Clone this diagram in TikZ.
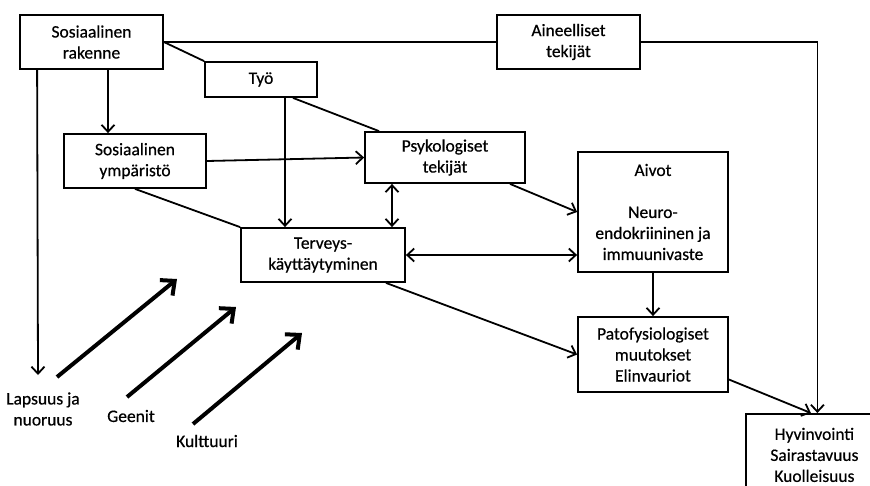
\documentclass[tikz,border=0pt]{standalone}
\usepackage{fontspec}
\setmainfont{Carlito}[FakeBold=0.5]
\usepackage{tikz}
\usetikzlibrary{arrows.meta, positioning}

\begin{document}
\begin{tikzpicture}[x=1pt,y=-1pt,
    box/.style={draw, line width=1.8pt, inner sep=0pt, align=center,
      font=\fontsize{17.5}{21}\selectfont},
    lbl/.style={inner sep=0pt, align=center, font=\fontsize{17.5}{21}\selectfont},
    >={Straight Barb[length=7pt,width=13pt]},
    line width=1.8pt,
    thickarrow/.style={line width=4pt, -{Straight Barb[length=11pt,width=20pt]}}]

  \clip (0,0) rectangle (870,485);

  \node[box, minimum width=143pt, minimum height=54pt] (rakenne)     at (91.5,42)  {Sosiaalinen\\rakenne};
  \node[box, minimum width=112pt, minimum height=35pt] (tyo)         at (261,79.5) {Työ};
  \node[box, minimum width=143pt, minimum height=54pt] (aineelliset) at (568.5,42) {Aineelliset\\tekijät};
  \node[box, minimum width=142pt, minimum height=54pt] (ymparisto)   at (135,161)  {Sosiaalinen\\ympäristö};
  \node[box, minimum width=160pt, minimum height=51pt] (psyk)        at (445,157.5) {Psykologiset\\tekijät};
  \node[box, minimum width=164pt, minimum height=54pt] (terveys)     at (323,255)  {Terveys-\\käyttäytyminen};
  \node[box, minimum width=150pt, minimum height=120pt] (aivot)      at (653,212)  {Aivot\\[21pt]Neuro-\\endokriininen ja\\immuunivaste};
  \node[box, minimum width=150pt, minimum height=75pt] (patofys)     at (653,354.5) {Patofysiologiset\\muutokset\\Elinvauriot};
  \node[box, minimum width=137pt, minimum height=82pt, anchor=north west] (hyv) at (745,413) {Hyvinvointi\\Sairastavuus\\Kuolleisuus};

  \node[lbl] (lapsuus)   at (43,409)  {Lapsuus ja\\nuoruus};
  \node[lbl] (geenit)    at (131,416) {Geenit};
  \node[lbl] (kulttuuri) at (207,441) {Kulttuuri};

  \coordinate (lapsuus_in) at (38,375);
  \coordinate (a1) at (57,377);  \coordinate (b1) at (177,279);
  \coordinate (a2) at (127,397); \coordinate (b2) at (236,307);
  \coordinate (a3) at (193,424); \coordinate (b3) at (302,333);

  \path[-] (rakenne) edge (aineelliset)
           (rakenne.east) edge (tyo.north west)
           ([xshift=32pt]tyo.south) edge ([xshift=-66pt]psyk.north)
           (ymparisto.south) edge (terveys.north west);

  \path[->] ([xshift=16.5pt]rakenne.south) edge ([xshift=-27pt]ymparisto.north)
            ([xshift=18pt]rakenne.south west) edge (lapsuus_in)
            ([xshift=24pt]tyo.south) edge ([xshift=-38pt]terveys.north)
            (ymparisto.east) edge (psyk.west)
            ([xshift=65pt]psyk.south) edge (aivot.west)
            (aivot) edge (patofys)
            ([xshift=63pt]terveys.south) edge (patofys.west)
            ([yshift=-25pt]patofys.east) edge ([xshift=-3.5pt]hyv.north);

  \path[<->] ([xshift=-53pt]psyk.south) edge ([xshift=69pt]terveys.north)
             (terveys.east) edge (aivot.west |- terveys.east);

  \draw[->] (aineelliset.east) -| ([xshift=3pt]hyv.north);

  \draw[thickarrow] (a1) -- (b1);
  \draw[thickarrow] (a2) -- (b2);
  \draw[thickarrow] (a3) -- (b3);
\end{tikzpicture}
\end{document}
